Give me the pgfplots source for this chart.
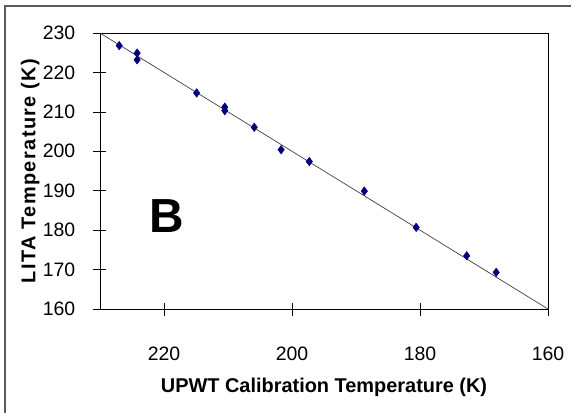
\documentclass[border=0pt]{standalone}
\usepackage{fontspec}
\setmainfont{Liberation Sans}
\newfontfamily\spacedfont[LetterSpace=7]{Liberation Sans}
\usepackage{pgfplots}
\pgfplotsset{compat=1.18}
\definecolor{navy}{RGB}{0,0,128}
\definecolor{framegray}{RGB}{90,90,90}
\begin{document}
\begin{tikzpicture}[x=1bp,y=1bp]
\useasboundingbox (0,0) rectangle (571,412);
\draw[framegray, line width=1.8bp] (5,-2) -- (5,406) -- (573,406);
\begin{axis}[
    at={(100bp,103bp)}, anchor=south west,
    scale only axis,
    width=448bp, height=276bp,
    x dir=reverse,
    xmin=160, xmax=230, ymin=160, ymax=230,
    xtick={220,200,180,160},
    ytick={160,170,...,230},
    xtick pos=bottom, ytick pos=left,
    tick align=center,
    major tick length=13bp,
    tick style={black, line width=0.6bp},
    axis line style={line width=0.9bp},
    /pgf/number format/assume math mode=true,
    tick label style={font=\fontsize{19.5}{22}\selectfont, inner sep=0pt},
    xticklabel style={anchor=base, yshift=-45bp},
    yticklabel style={anchor=east, xshift=-18bp},
    xlabel={\textbf{UPWT Calibration Temperature (K)}},
    ylabel={\spacedfont\bfseries LITA Temperature (K)},
    label style={font=\fontsize{20}{24}\selectfont, inner sep=0pt},
    xlabel style={at={(axis description cs:0.5,-0.304)}, anchor=base},
    ylabel style={at={(axis description cs:-0.156,0.5)}, anchor=center},
    clip=false,
]
\addplot[black!75, line width=0.7bp] coordinates {(230,230) (160,160)};
\addplot[only marks, mark=diamond*, mark size=4.3bp, navy] coordinates {
    (227.0,226.8) (224.2,224.9) (224.2,223.2) (214.9,214.8)
    (210.5,211.2) (210.5,210.3) (205.9,206.1) (201.7,200.4)
    (197.3,197.4) (188.7,189.9) (180.6,180.7) (172.7,173.5)
    (168.1,169.3)};
\node[font=\fontsize{48}{52}\selectfont\bfseries, anchor=base, inner sep=0pt]
    at (axis cs:219.5,179.5) {B};
\end{axis}
\end{tikzpicture}
\end{document}
